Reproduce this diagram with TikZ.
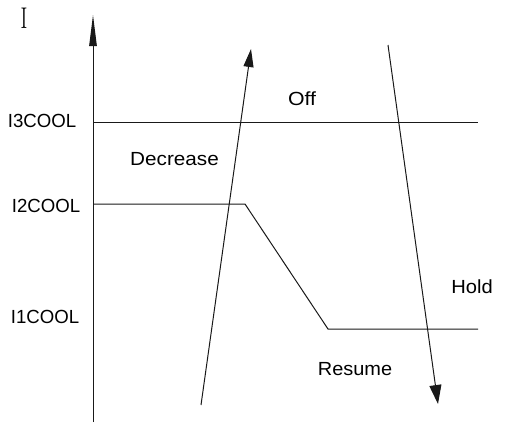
\documentclass[tikz,border=0pt]{standalone}
\usepackage{fontspec}
\setsansfont{Liberation Sans}
\usetikzlibrary{arrows.meta}
\begin{document}
\begin{tikzpicture}[x=1pt,y=-1pt,
  lbl/.style={font=\sffamily\fontsize{19}{22}\selectfont, inner sep=0pt, anchor=center},
  ln/.style={line width=1pt, black!90}]
\useasboundingbox (0,0) rectangle (508,424);
% coordinates
\coordinate (ax0) at (93,422);
\coordinate (ax1) at (93,15);
\coordinate (h3a) at (93,122);
\coordinate (h3b) at (478,122);
\coordinate (h2a) at (93,204);
\coordinate (h2b) at (245,204);
\coordinate (h1a) at (328,329);
\coordinate (h1b) at (478,329);
\coordinate (ua) at (201,405);
\coordinate (ub) at (251,49);
\coordinate (da) at (388,45);
\coordinate (db) at (438,404);
% axis
\draw[ln, -{Triangle[length=31pt,width=7.5pt]}] (ax0) -- (ax1);
% levels
\draw[ln] (h3a) -- (h3b);
\draw[ln] (h2a) -- (h2b) -- (h1a) -- (h1b);
% arrows
\draw[ln, -{Triangle[length=18pt,width=10pt]}] (ua) -- (ub);
\draw[ln, -{Triangle[length=19pt,width=12pt]}] (da) -- (db);
% labels
\node[inner sep=0pt] (I) at (24,18.5) {\scalebox{1.6}[3]{I}};
\node[lbl] (l3) at (42,121) {\scalebox{0.98}[1]{I3COOL}};
\node[lbl] (l2) at (46,205.5) {\scalebox{0.98}[1]{I2COOL}};
\node[lbl] (l1) at (45,317) {\scalebox{0.98}[1]{I1COOL}};
\node[lbl] (off) at (302,99) {\scalebox{1.12}[1]{Off}};
\node[lbl] (dec) at (174.5,159.5) {\scalebox{1.09}[1]{Decrease}};
\node[lbl] (hold) at (472,287) {\scalebox{1.06}[1]{Hold}};
\node[lbl] (res) at (355,369) {\scalebox{1.05}[1]{Resume}};
\end{tikzpicture}
\end{document}
